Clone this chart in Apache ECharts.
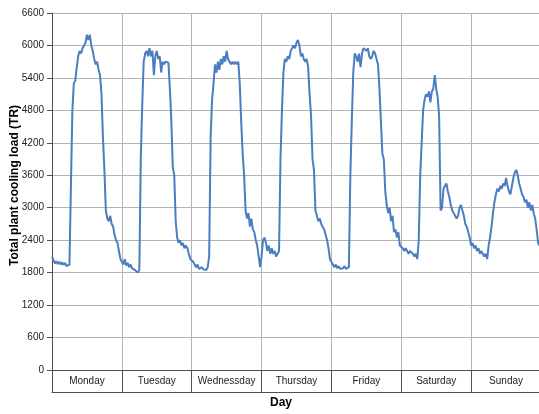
<!DOCTYPE html>
<html><head><meta charset="utf-8">
<script src="https://cdn.jsdelivr.net/npm/echarts@6/dist/echarts.min.js"></script>
<style>html,body{margin:0;padding:0;background:#fff}#c{width:539px;height:414px}</style>
</head><body><div id="c"></div>
<script>
// Day labels (as printed in the source, including its spelling)
const dayLabels = ['Monday','Tuesday','Wednessday','Thursday','Friday','Saturday','Sunday'];
// Y tick values
const yTicks = [0,600,1200,1800,2400,3000,3600,4200,4800,5400,6000,6600];
// Cooling load (TR), half-hourly readings, hour 0.0 .. 23.5 of each day
const monday = [2100,2030,1970,2010,1960,2000,1950,1990,1940,1980,1920,1900,1950,3400,4800,5300,5350,5600,5800,5900,5850,5950,6000,6050,6200,6100,6200,6000,5900,5750,5650,5700,5550,5450,5100,4300,3700,2950,2800,2750,2850,2700,2650,2500,2400,2350,2200,2050];
const tuesday = [2000,1950,2050,1930,1980,1900,1950,1880,1900,1850,1870,1800,1850,3900,4900,5700,5850,5900,5800,5950,5800,5900,5450,5800,5900,5750,5800,5500,5700,5650,5700,5700,5680,5200,4600,3750,3600,2750,2450,2350,2400,2300,2350,2250,2300,2250,2150,2050];
const wednesday = [2050,2000,1950,1900,1950,1870,1850,1900,1860,1880,1850,1900,2100,4300,5000,5300,5650,5500,5700,5550,5750,5650,5800,5700,5900,5750,5700,5650,5700,5650,5700,5650,5700,5300,4600,4000,3600,2950,2800,2900,2650,2800,2600,2550,2400,2300,2100,1900];
const thursday = [2100,2400,2450,2350,2200,2300,2150,2250,2150,2200,2100,2150,2200,3900,4800,5500,5750,5700,5800,5750,5900,5950,6000,5950,6050,6100,6000,5800,5850,5750,5700,5750,5600,5100,4700,3900,3700,2950,2850,2750,2800,2700,2650,2600,2500,2400,2250,2050];
const friday = [2050,1950,1900,1950,1880,1920,1870,1900,1880,1920,1870,1850,1900,3600,4600,5500,5850,5800,5700,5850,5600,5850,5950,5950,5900,5950,5800,5750,5800,5900,5850,5750,5650,5200,4600,4000,3900,3300,3050,2900,3000,2750,2850,2550,2600,2450,2550,2300];
const saturday = [2300,2250,2200,2250,2200,2150,2200,2180,2150,2100,2150,2050,2400,3600,4200,4800,5000,5100,5050,5150,4950,5150,5200,5450,5200,5050,4700,2950,3000,3350,3400,3450,3300,3200,3050,2950,2900,2850,2800,2850,3000,3050,2950,2850,2700,2650,2550,2450];
const sunday = [2300,2350,2250,2300,2200,2250,2150,2200,2150,2100,2150,2050,2300,2450,2650,2900,3100,3250,3350,3300,3400,3350,3450,3400,3550,3400,3300,3250,3400,3550,3650,3700,3600,3450,3350,3250,3200,3100,3150,3000,3100,2950,3050,2900,2800,2600,2350,2300];

const days = [monday,tuesday,wednesday,thursday,friday,saturday,sunday];
const seriesData = [];
days.forEach((arr, d) => arr.forEach((v, i) => seriesData.push([d * 24 + i * 0.5, v])));

const gridCol = '#b4b4b4', axisCol = '#505050', FONT = 'Liberation Sans, Arial, sans-serif';
const chart = echarts.init(document.getElementById('c'), null, {renderer: 'canvas'});
chart.setOption({
  animation: false,
  backgroundColor: '#fff',
  grid: {left: 52, top: 13, right: -2, bottom: 44, containLabel: false, outerBoundsMode: 'none'},
  xAxis: [
    {type: 'value', position: 'top', min: 0, max: 24 * dayLabels.length, interval: 24,
     axisLine: {show: true, lineStyle: {color: axisCol, width: 1}},
     axisTick: {show: false}, axisLabel: {show: false},
     splitLine: {show: true, lineStyle: {color: gridCol, width: 1}}},
    {type: 'category', position: 'bottom', data: dayLabels, boundaryGap: true,
     axisLine: {show: true, lineStyle: {color: axisCol, width: 1}},
     axisTick: {show: true, length: 22, interval: 0, lineStyle: {color: axisCol, width: 1}},
     axisLabel: {show: true, interval: 0, margin: 6, fontSize: 10, color: '#222', fontFamily: FONT},
     splitLine: {show: false}},
    {type: 'category', position: 'bottom', offset: 22, data: dayLabels, boundaryGap: true,
     axisLine: {show: true, lineStyle: {color: axisCol, width: 1}},
     axisTick: {show: false}, axisLabel: {show: false}, splitLine: {show: false}}
  ],
  yAxis: {
    type: 'value', min: yTicks[0], max: yTicks[yTicks.length - 1], interval: yTicks[1] - yTicks[0],
    axisLine: {show: true, lineStyle: {color: axisCol, width: 1}},
    axisTick: {show: true, length: 5, lineStyle: {color: axisCol}},
    axisLabel: {fontSize: 10, color: '#222', margin: 8, fontFamily: FONT, formatter: v => String(v)},
    splitLine: {show: true, lineStyle: {color: gridCol, width: 1}}
  },
  graphic: [
    {type: 'text', x: 281, y: 403,
     style: {text: 'Day', fill: '#000', font: 'bold 12px Liberation Sans, Arial, sans-serif', textAlign: 'center', textVerticalAlign: 'middle'}},
    {type: 'text', x: 15, y: 185.5, rotation: Math.PI / 2,
     style: {text: 'Total plant cooling load (TR)', fill: '#000', font: 'bold 12px Liberation Sans, Arial, sans-serif', textAlign: 'center', textVerticalAlign: 'middle'}}
  ],
  series: [{
    type: 'line', xAxisIndex: 0, data: seriesData, showSymbol: false, symbol: 'none',
    lineStyle: {color: '#4a7ebf', width: 2}, clip: true
  }]
});
</script></body></html>
